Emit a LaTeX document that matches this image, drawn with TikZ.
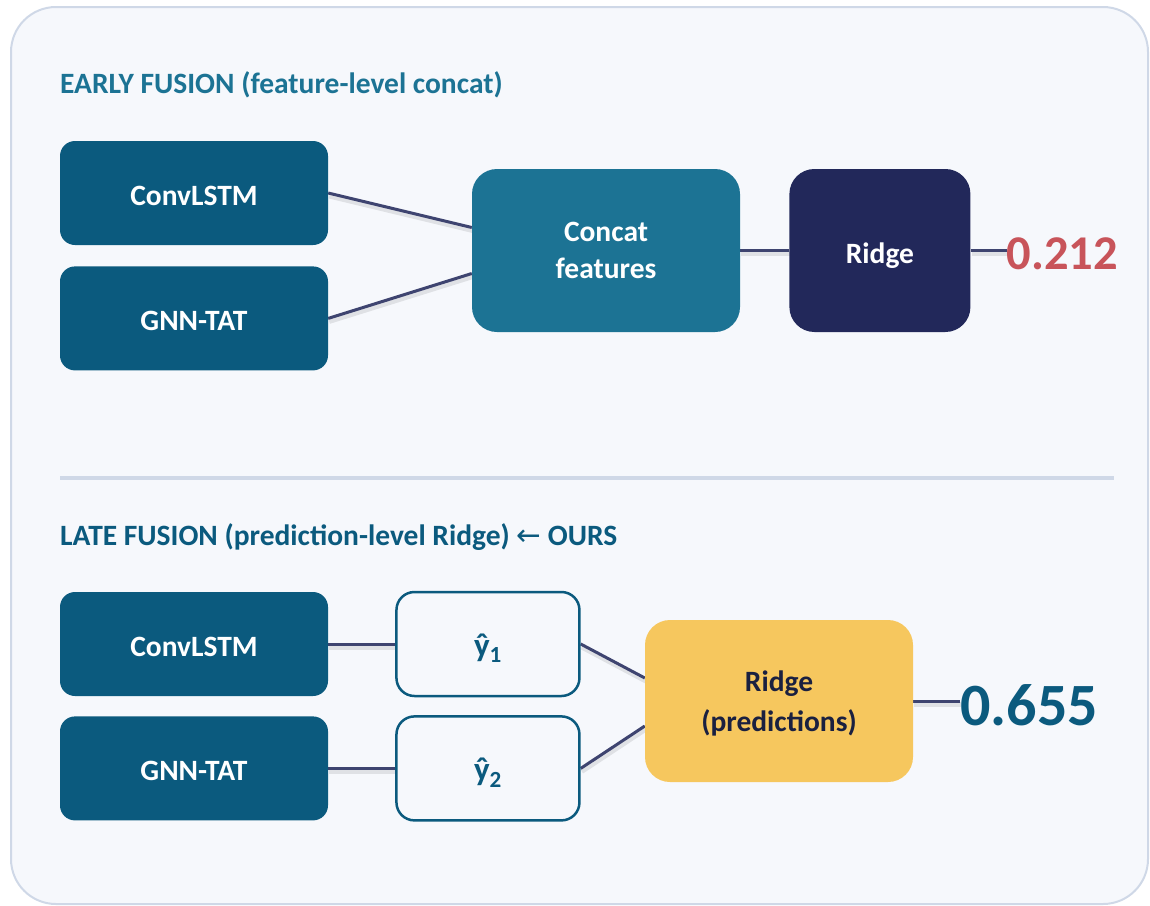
\documentclass[tikz,border=0pt]{standalone}
\usepackage{fontspec}
\setmainfont{Carlito}
\newfontfamily\arrowfont{DejaVu Sans}
\usetikzlibrary{positioning, backgrounds}

\definecolor{panel}{HTML}{F6F8FC}
\definecolor{frameline}{HTML}{CFD8E7}
\definecolor{petrol}{HTML}{0B5A7E}
\definecolor{concatcol}{HTML}{1C7394}
\definecolor{navy}{HTML}{22285A}
\definecolor{amber}{HTML}{F6C75E}
\definecolor{wirecol}{HTML}{3E4470}
\definecolor{badred}{HTML}{C8545A}
\definecolor{ink}{HTML}{1A2040}

\begin{document}
\begin{tikzpicture}[x=1pt, y=-1pt, node distance=21pt,
    font=\bfseries\fontsize{29.5}{37}\selectfont,
    box/.style={rounded corners=15pt, minimum width=268pt, minimum height=104pt,
      align=center, inner sep=0pt},
    oneline/.style={text height=25pt, text depth=0pt},
    model/.style={box, oneline, fill=petrol, text=white},
    bigbox/.style={box, minimum height=163pt, rounded corners=25pt},
    pred/.style={box, oneline, draw=petrol, line width=2.5pt, fill=panel, text=petrol,
      minimum width=183pt, rounded corners=18pt, font=\bfseries\fontsize{33}{37}\selectfont},
    wire/.style={draw=wirecol, line width=3pt,
      preaction={draw=black, opacity=.09, line width=5pt, transform canvas={xshift=1pt, yshift=-3pt}}},
    heading/.style={anchor=base west, inner sep=0pt},
    score/.style={inner sep=0pt}]
  \useasboundingbox (0,0) rectangle (1150,905);
  \begin{scope}[on background layer]
    \draw[frameline, line width=2pt, fill=panel, rounded corners=45pt] (11,7) rectangle (1148,904);
  \end{scope}

  % early fusion: features concatenated before the regressor
  \node[heading, text=concatcol] (t1) at (60,93) {EARLY FUSION (feature-level concat)};
  \node[model] (conv1) at (194,193) {ConvLSTM};
  \node[model, below=of conv1] (gnn1) {GNN-TAT};
  \node[bigbox, fill=concatcol, text=white, text depth=-6pt] (concat) at (606,250.5) {Concat\\features};
  \node[bigbox, oneline, fill=navy, text=white, minimum width=181pt, right=49pt of concat] (ridge1) {Ridge};
  \node[score, text=badred, font=\bfseries\fontsize{48.5}{48}\selectfont,
        right=36pt of ridge1, yshift=-3pt] (score1) {0.212};

  \coordinate (d1) at (60,478);
  \coordinate (d2) at (1114,478);
  \draw[frameline, line width=4pt] (d1) -- (d2);

  % late fusion: Ridge on the two predictions
  \node[heading, text=petrol] (t2) at (60,545) {LATE FUSION (prediction-level Ridge) {\arrowfont\mdseries ←} OURS};
  \node[model] (conv2) at (194,644) {ConvLSTM};
  \node[model, below=20pt of conv2] (gnn2) {GNN-TAT};
  \node[pred, right=67pt of conv2] (yhat1) {ŷ\textsubscript{1}};
  \node[pred, right=67pt of gnn2]  (yhat2) {ŷ\textsubscript{2}};
  \node[bigbox, fill=amber, text=ink, minimum height=162pt, text depth=-4pt] (ridge2) at (779,701) {Ridge\\[3pt](predictions)};
  \node[score, text=petrol, font=\bfseries\fontsize{60}{60}\selectfont,
        right=47pt of ridge2, yshift=-4pt] (score2) {0.655};

  \begin{scope}[on background layer]
    \draw[wire] (conv1.east) -- ([yshift=23pt]concat.west);
    \draw[wire] (gnn1.east) -- ([yshift=-23pt]concat.west);
    \draw[wire] (concat) -- (ridge1);
    \draw[wire] (ridge1.east) -- (ridge1.east -| score1.west);
    \draw[wire] (conv2) -- (yhat1);
    \draw[wire] (gnn2) -- (yhat2);
    \draw[wire] (yhat1.east) -- ([yshift=23pt]ridge2.west);
    \draw[wire] (yhat2.east) -- ([yshift=-25pt]ridge2.west);
    \draw[wire] (ridge2.east) -- (ridge2.east -| score2.west);
  \end{scope}
\end{tikzpicture}
\end{document}
